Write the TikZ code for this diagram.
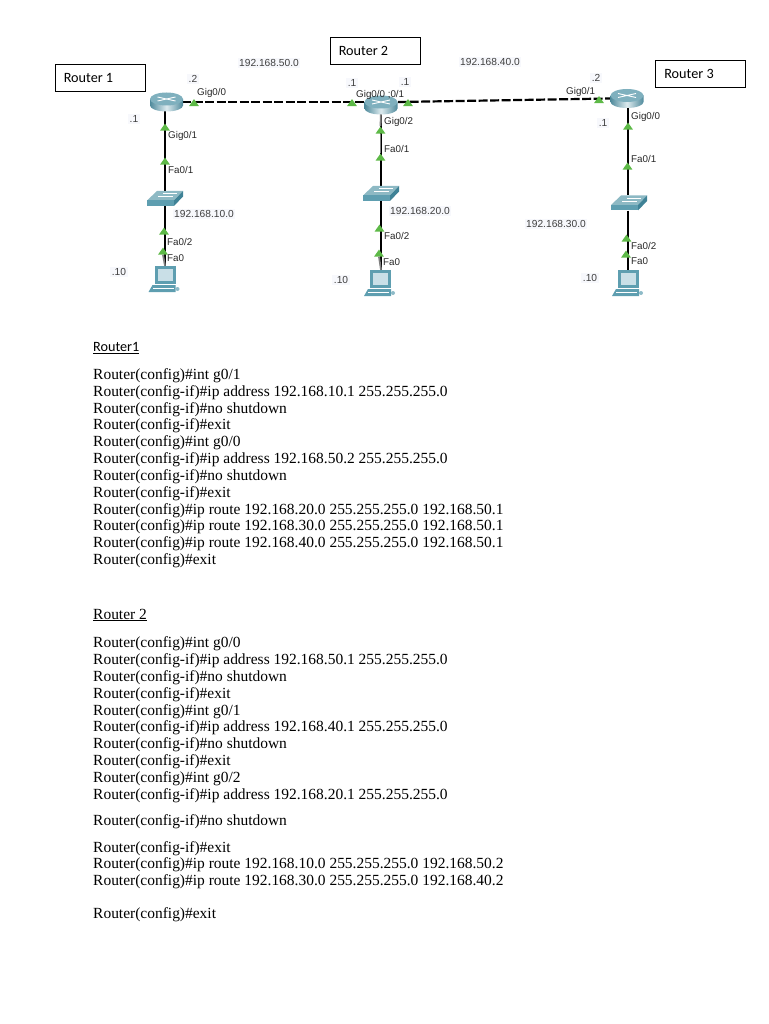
\documentclass[tikz,border=0pt]{standalone}
\usepackage{fontspec}
\usetikzlibrary{shapes.geometric}
\setmainfont{Liberation Serif}
\newfontfamily\netfont{Liberation Sans}
\newfontfamily\headfont{Carlito}
\definecolor{routerblue}{HTML}{7FB0BE}
\definecolor{routerdark}{HTML}{4F8A9C}
\definecolor{routertop}{HTML}{A9CBD5}
\definecolor{switchtop}{HTML}{8DB9C4}
\definecolor{switchside}{HTML}{3F8296}
\definecolor{pcblue}{HTML}{5E9EB0}
\definecolor{pcscreen}{HTML}{C9DFE7}
\definecolor{linkgreen}{HTML}{5DB947}
\definecolor{labelbg}{HTML}{F7F8FC}
\tikzset{
  cfg/.style={anchor=base west,inner sep=0pt,font=\fontsize{15.47}{16}\selectfont},
  heading/.style={anchor=base west,inner sep=0pt,font=\headfont\fontsize{14.2}{16}\selectfont},
  titlebox/.style={draw,line width=0.8pt,minimum width=90pt,minimum height=27pt,inner sep=0pt,
    font=\headfont\fontsize{14.2}{16}\selectfont},
  port/.style={anchor=west,inner sep=1pt,font=\netfont\fontsize{9.8}{10}\selectfont,text=black!85},
  addr/.style={fill=labelbg,inner sep=1.5pt,font=\netfont\fontsize{10.2}{10}\selectfont,text=black!75},
  wire/.style={line width=2.3pt},
  dashwire/.style={line width=2.2pt,dash pattern=on 9pt off 2.5pt},
  lightwire/.style={line width=1.8pt,black!50},
  tip/.style={fill=linkgreen,isosceles triangle,isosceles triangle apex angle=70,
    inner sep=0pt,minimum height=7pt,minimum width=9pt,shape border rotate=90},
  device/.style={inner sep=0pt,minimum width=34pt,minimum height=16pt},
  pics/router/.style={code={
    \shade[left color=routerdark,right color=routerdark,middle color=routertop!40!white]
      (-16.5,-3) -- (-16.5,3.5) arc[start angle=180,end angle=0,x radius=16.5,y radius=6] -- (16.5,-3) -- cycle;
    \fill[routerblue] (0,-3) ellipse[x radius=16.5,y radius=6.5];
    \draw[white,line width=0.9pt] (-9,-5) -- (9,-1) (-9,-1) -- (9,-5);
  }},
  pics/switchbox/.style={code={
    \fill[switchtop] (-18,2) -- (-8,-7.5) -- (18,-7.5) -- (9,2) -- cycle;
    \fill[pcblue] (-18,2) rectangle (9,7.5);
    \fill[switchside] (9,2) -- (18,-7.5) -- (18,-2) -- (9,7.5) -- cycle;
    \draw[white,line width=0.5pt] (-7,-2) -- (8,-2) (-2,-5) -- (12,-5);
  }},
  pics/pcbox/.style={code={
    \fill[pcblue] (-9,-13) rectangle (12,5);
    \fill[pcscreen] (-6,-10) rectangle (9,2);
    \fill[pcblue] (-15,13) -- (-11,6) -- (12,6) -- (12,13) -- cycle;
    \fill[white] (-11,8.5) rectangle (10,9.5);
    \fill[pcblue!70] (14,10) circle (2pt);
  }},
}
\begin{document}
\begin{tikzpicture}[x=1pt,y=-1pt]
\useasboundingbox (0,0) rectangle (768,1024);

% Title boxes
\node[titlebox] (box1) at (100,78) {\hspace*{-23pt}Router 1};
\node[titlebox] (box2) at (375,51) {\hspace*{-23pt}Router 2};
\node[titlebox] (box3) at (700.5,74) {\hspace*{-23pt}Router 3};

% Anchors of the devices
\node[device] (r1) at (165,102) {};
\node[device] (r2) at (381,102) {};
\node[device] (r3) at (628,98.5) {};
\node[device,minimum height=15pt] (s1) at (165,198.5) {};
\node[device,minimum height=15pt] (s2) at (381,193.5) {};
\node[device,minimum height=15pt] (s3) at (628,203) {};
\node[device,minimum height=26pt] (p1) at (165,279) {};
\node[device,minimum height=26pt] (p2) at (381,283) {};
\node[device,minimum height=26pt] (p3) at (628,283) {};

% Links
\draw[dashwire] (r1.east) -- (r2.west);
\draw[dashwire] (r2.east) -- (r3.west);
\draw[wire] (r1.south) -- (s1.north);
\draw[wire] (r2.south) -- (s2.north);
\draw[wire] (r3.south) -- (s3.north);
\draw[wire] (s1.south) -- (p1.north);
\draw[wire] (s2.south) -- (p2.north);
\draw[wire] (s3.south) -- (p3.north);

% Green link lights
\node[tip] (t1) at (165,128) {};
\node[tip] (t2) at (165,162) {};
\node[tip] (t3) at (164,232) {};
\node[tip] (t4) at (163,252) {};
\node[tip] (t5) at (194,103.5) {};
\node[tip] (t6) at (352,103.5) {};
\node[tip] (t7) at (408,103.5) {};
\node[tip] (t8) at (380.5,131) {};
\node[tip] (t9) at (380.5,158) {};
\node[tip] (t10) at (379.5,229) {};
\node[tip] (t11) at (379,254) {};
\node[tip] (t12) at (599,100.5) {};
\node[tip] (t13) at (628,127) {};
\node[tip] (t14) at (627.5,167) {};
\node[tip] (t15) at (626.5,239) {};
\node[tip] (t16) at (626,255) {};
\draw[lightwire] (t4.south) -- (p1.north);
\draw[lightwire] (r2.south) -- (t8.north);
\draw[lightwire] (t9.north) -- (t8.south);
\draw[lightwire] (t11.south) -- (p2.north);

% Devices
\pic at ([xshift=1.5pt]r1) {router};
\pic at ([yshift=-3pt]r2) {router};
\pic at ([xshift=-1pt]r3) {router};
\pic at (s1) {switchbox};
\pic at (s2) {switchbox};
\pic at ([xshift=1pt]s3) {switchbox};
\pic at ([xshift=-1.5pt]p1) {pcbox};
\pic at ([xshift=-2pt]p2) {pcbox};
\pic at ([xshift=-1pt]p3) {pcbox};

% Port names
\node[port] (g1a) at (196,93) {Gig0/0};
\node[port] (g1b) at (167,136) {Gig0/1};
\node[port] (f1a) at (167,170) {Fa0/1};
\node[port] (f1b) at (166,242) {Fa0/2};
\node[port] (f1c) at (166,258) {Fa0};
\node[port] (g2a) at (355,95) {Gig0/0 ;0/1};
\node[port] (g2c) at (383,122) {Gig0/2};
\node[port] (f2a) at (383,149) {Fa0/1};
\node[port] (f2b) at (383,236) {Fa0/2};
\node[port] (f2c) at (382,262) {Fa0};
\node[port] (g3a) at (565,92) {Gig0/1};
\node[port] (g3b) at (630,117) {Gig0/0};
\node[port] (f3a) at (630,159) {Fa0/1};
\node[port] (f3b) at (630,246) {Fa0/2};
\node[port] (f3c) at (630,261) {Fa0};

% Addresses
\node[addr] (n50) at (269,63) {192.168.50.0};
\node[addr] (n40) at (490,62) {192.168.40.0};
\node[addr] (n10) at (204,214) {192.168.10.0};
\node[addr] (n20) at (420,211) {192.168.20.0};
\node[addr] (n30) at (556,224) {192.168.30.0};
\node[addr] (a1) at (193,79) {.2};
\node[addr] (a2) at (134,119) {.1};
\node[addr] (a3) at (119,272) {.10};
\node[addr] (a4) at (352,83) {.1};
\node[addr] (a5) at (405,82) {.1};
\node[addr] (a6) at (341,280) {.10};
\node[addr] (a7) at (596,78) {.2};
\node[addr] (a8) at (603,123) {.1};
\node[addr] (a9) at (590,278) {.10};

% Router 1 commands
\node[heading] (h1) at (93,351.5) {\underline{Router1}};
\node[cfg] (c1) at (93,379) {Router(config)\#int g0/1};
\node[cfg] (c2) at (93,396) {Router(config-if)\#ip address 192.168.10.1 255.255.255.0};
\node[cfg] (c3) at (93,413) {Router(config-if)\#no shutdown};
\node[cfg] (c4) at (93,429) {Router(config-if)\#exit};
\node[cfg] (c5) at (93,446) {Router(config)\#int g0/0};
\node[cfg] (c6) at (93,463) {Router(config-if)\#ip address 192.168.50.2 255.255.255.0};
\node[cfg] (c7) at (93,480) {Router(config-if)\#no shutdown};
\node[cfg] (c8) at (93,497) {Router(config-if)\#exit};
\node[cfg] (c9) at (93,514) {Router(config)\#ip route 192.168.20.0 255.255.255.0 192.168.50.1};
\node[cfg] (c10) at (93,530) {Router(config)\#ip route 192.168.30.0 255.255.255.0 192.168.50.1};
\node[cfg] (c11) at (93,547) {Router(config)\#ip route 192.168.40.0 255.255.255.0 192.168.50.1};
\node[cfg] (c12) at (93,564) {Router(config)\#exit};

% Router 2 commands
\node[cfg] (h2) at (93,619) {\underline{Router 2}};
\node[cfg] (d1) at (93,647) {Router(config)\#int g0/0};
\node[cfg] (d2) at (93,664) {Router(config-if)\#ip address 192.168.50.1 255.255.255.0};
\node[cfg] (d3) at (93,681) {Router(config-if)\#no shutdown};
\node[cfg] (d4) at (93,698) {Router(config-if)\#exit};
\node[cfg] (d5) at (93,715) {Router(config)\#int g0/1};
\node[cfg] (d6) at (93,731) {Router(config-if)\#ip address 192.168.40.1 255.255.255.0};
\node[cfg] (d7) at (93,748) {Router(config-if)\#no shutdown};
\node[cfg] (d8) at (93,765) {Router(config-if)\#exit};
\node[cfg] (d9) at (93,782) {Router(config)\#int g0/2};
\node[cfg] (d10) at (93,799) {Router(config-if)\#ip address 192.168.20.1 255.255.255.0};
\node[cfg] (d11) at (93,825) {Router(config-if)\#no shutdown};
\node[cfg] (d12) at (93,852) {Router(config-if)\#exit};
\node[cfg] (d13) at (93,868) {Router(config)\#ip route 192.168.10.0 255.255.255.0 192.168.50.2};
\node[cfg] (d14) at (93,885) {Router(config)\#ip route 192.168.30.0 255.255.255.0 192.168.40.2};
\node[cfg] (d15) at (93,918) {Router(config)\#exit};

\end{tikzpicture}
\end{document}
